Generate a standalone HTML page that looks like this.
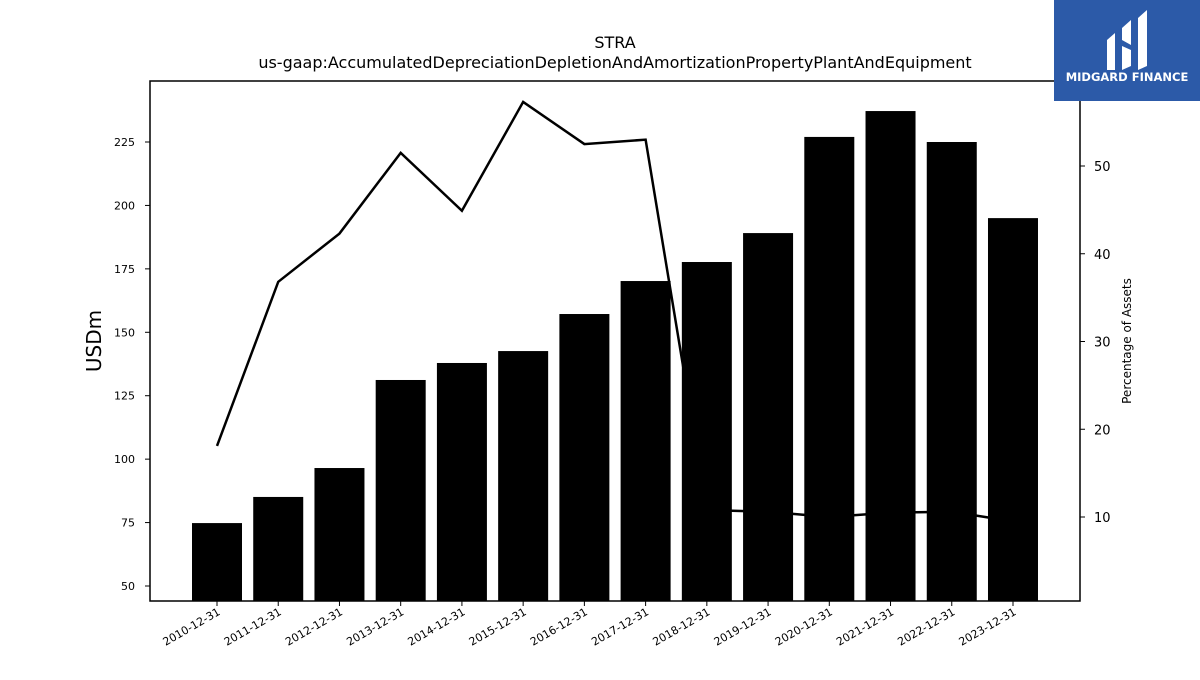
<!DOCTYPE html>
<html><head><meta charset="utf-8"><style>
body{margin:0;background:#fff;}
svg text{font-family:"DejaVu Sans","Liberation Sans",sans-serif;}
</style></head><body>
<svg id="chart" width="1200" height="675" viewBox="0 0 1200 675" xmlns="http://www.w3.org/2000/svg">
<rect width="1200" height="675" fill="#fff"/>
<text x="615" y="48" font-size="16" text-anchor="middle">STRA</text>
<text x="615" y="68" font-size="16" text-anchor="middle">us-gaap:AccumulatedDepreciationDepletionAndAmortizationPropertyPlantAndEquipment</text>
<g id="lineLayer"></g>
<g id="barLayer"></g>
<rect x="150" y="81" width="930" height="520" fill="none" stroke="#000" stroke-width="1.5"/>
<g id="axes"></g>
<text transform="translate(101,341) rotate(-90)" font-size="20" text-anchor="middle">USDm</text>
<text transform="translate(1131,341) rotate(-90)" font-size="12" text-anchor="middle">Percentage of Assets</text>
<g>
<rect x="1054" y="0" width="146" height="101" fill="#2c5aa8"/>
<path d="M1107 40 L1115 33 L1115 70 L1107 70 Z M1122 28 L1131 20 L1131 45 L1122 40 Z M1122 46 L1131 50 L1131 66 L1122 70 Z M1138 18 L1147 10 L1147 66 L1138 70 Z" fill="#fff"/>
<text x="1127" y="81" font-size="11.5" font-weight="bold" fill="#fff" text-anchor="middle">MIDGARD FINANCE</text>
</g>
</svg>
<script>
const categories=["2010-12-31","2011-12-31","2012-12-31","2013-12-31","2014-12-31","2015-12-31","2016-12-31","2017-12-31","2018-12-31","2019-12-31","2020-12-31","2021-12-31","2022-12-31","2023-12-31"];
const barValues=[74.8,85.1,96.5,131.2,137.9,142.6,157.2,170.2,177.7,189.1,227.0,237.2,225.0,195.0];
const pctValues=[18.1,36.8,42.3,51.5,44.9,57.3,52.5,53.0,10.8,10.6,10.0,10.5,10.6,9.5];
const leftTicks=[50,75,100,125,150,175,200,225];
const rightTicks=[10,20,30,40,50];
const NS="http://www.w3.org/2000/svg";
const yL=v=>586-(v-50)*(444/175);
const yR=v=>517-(v-10)*8.775;
const xC=i=>217+i*61.23;
function mk(t,a,p){const e=document.createElementNS(NS,t);for(const k in a)e.setAttribute(k,a[k]);p.appendChild(e);return e;}
const bars=document.getElementById('barLayer'),lines=document.getElementById('lineLayer'),axes=document.getElementById('axes');
categories.forEach((c,i)=>{
 const y=yL(barValues[i]);
 const r=mk('rect',{x:xC(i)-25,y:y,width:50,height:601-y,fill:'#000'},bars);
 
 
 mk('line',{x1:xC(i),x2:xC(i),y1:601,y2:606,stroke:'#000'},axes);
 const t=mk('text',{'font-size':11,'text-anchor':'end',transform:`translate(${xC(i)+4},${614}) rotate(-30)`},axes);
 t.textContent=c;
 
 
});
const pl=mk('polyline',{points:pctValues.map((v,i)=>xC(i)+','+yR(v)).join(' '),fill:'none',stroke:'#000','stroke-width':2.5},lines);


leftTicks.forEach(v=>{
 mk('line',{x1:145,x2:150,y1:yL(v),y2:yL(v),stroke:'#000'},axes);
 const t=mk('text',{x:135,y:yL(v)+4,'font-size':11,'text-anchor':'end'},axes);
 t.textContent=v;
 
 
});
rightTicks.forEach(v=>{
 mk('line',{x1:1080,x2:1085,y1:yR(v),y2:yR(v),stroke:'#000'},axes);
 const t=mk('text',{x:1094,y:yR(v)+5,'font-size':13},axes);
 t.textContent=v;
 
 
});
</script>
</body></html>
